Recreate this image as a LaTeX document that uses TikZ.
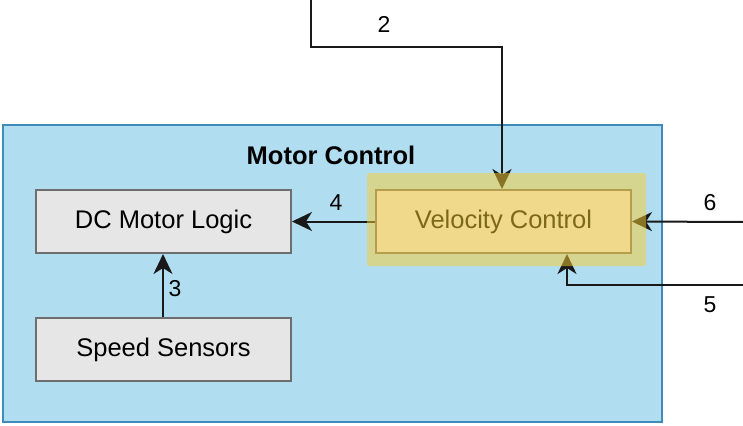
\documentclass[tikz,border=0pt]{standalone}
\usepackage{fontspec}
\setmainfont{Liberation Sans}
\usetikzlibrary{arrows.meta}
\definecolor{groupfill}{RGB}{177,221,240}
\definecolor{groupline}{RGB}{62,140,188}
\definecolor{boxfill}{RGB}{230,230,230}
\definecolor{boxline}{RGB}{110,110,110}
\definecolor{glow}{RGB}{250,206,48}
\tikzset{
  x=1pt, y=-1pt,
  group/.style={draw=groupline, line width=2pt, fill=groupfill},
  block/.style={draw=boxline, line width=2pt, fill=boxfill, anchor=north west,
    minimum width=255pt, minimum height=63pt, font=\fontsize{25.5}{30}\selectfont},
  flow/.style={line width=2pt, draw=black!90, -{Stealth[length=20pt, width=19pt, inset=6pt]}},
  tag/.style={font=\fontsize{23}{27}\selectfont, inner sep=0pt}
}
\begin{document}
\begin{tikzpicture}
\useasboundingbox (0,0) rectangle (743,425);
\fill[white] (0,0) rectangle (743,425);

% container
\draw[group] (3,125) rectangle (662,422);
\node[font=\bfseries\fontsize{25.5}{30}\selectfont, inner sep=0pt] (title) at (331,155) {Motor Control};

% blocks
\node[block] (dc) at (35,189) {DC Motor Logic};
\node[block] (ss) at (35,317) {Speed Sensors};
\node[block] (vc) at (375,189) {Velocity Control};

% free ends of the external connectors
\coordinate (in2) at (311,0);
\coordinate (in6) at (743,222);
\coordinate (in5) at (743,285);

% connectors
\draw[flow] (in2) |- (502,47) -- (vc.north -| 502,0);
\node[tag] (l2) at (384,24) {2};
\draw[flow] (vc.west) -- (dc.east);
\node[tag] (l4) at (336,203) {4};
\draw[flow] (ss.north -| 163,0) -- (dc.south -| 163,0);
\node[tag] (l3) at (175,289) {3};
\draw[flow] (in6) -- (vc.east);
\node[tag] (l6) at (710,203) {6};
\draw[flow] (in5) -| (vc.south -| 567,0);
\node[tag] (l5) at (710,305) {5};

% highlight over the velocity block
\fill[glow, opacity=0.5, rounded corners=2pt] (367,173) rectangle (646,266);
\end{tikzpicture}
\end{document}
